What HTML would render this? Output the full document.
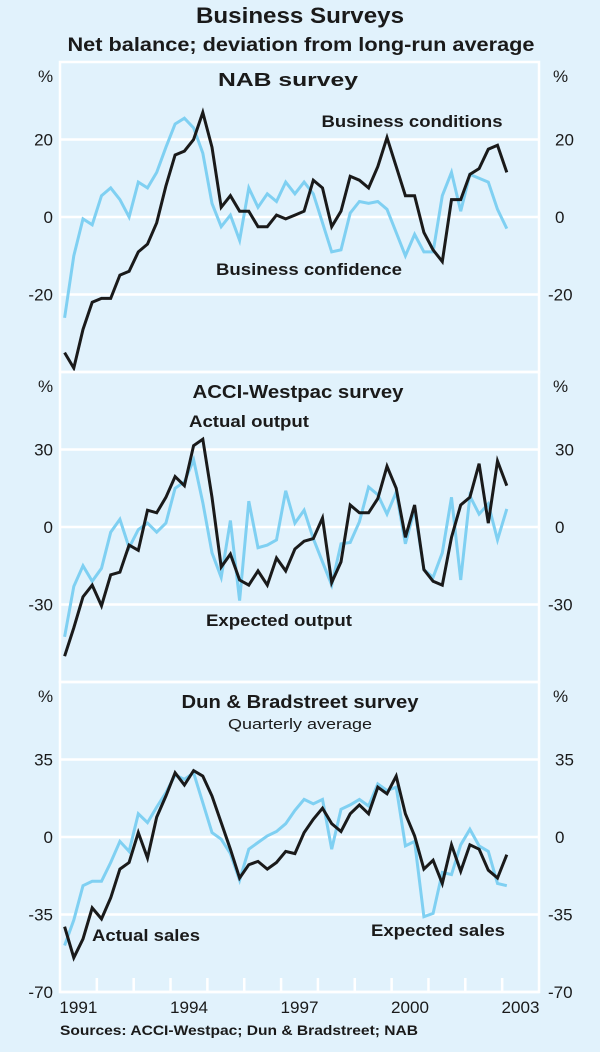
<!DOCTYPE html>
<html><head><meta charset="utf-8"><style>
body{margin:0;background:#e1f2fc;}
svg{display:block;font-family:"Liberation Sans",sans-serif;}
</style></head><body>
<svg id="chart" width="600" height="1052" viewBox="0 0 600 1052" xmlns="http://www.w3.org/2000/svg">
<rect x="0" y="0" width="600" height="1052" fill="#e1f2fc"/>
<text x="300" y="23" text-anchor="middle" font-size="22" font-weight="bold" fill="#1a1a1a" textLength="208" lengthAdjust="spacingAndGlyphs">Business Surveys</text>
<text x="301" y="51" text-anchor="middle" font-size="19" font-weight="bold" fill="#1a1a1a" textLength="467" lengthAdjust="spacingAndGlyphs">Net balance; deviation from long-run average</text>
<g id="panels"></g>
<text x="60" y="1035" font-size="14" font-weight="bold" fill="#1a1a1a" textLength="358" lengthAdjust="spacingAndGlyphs">Sources: ACCI-Westpac; Dun &amp; Bradstreet; NAB</text>
</svg>
<script>
const years = ["1991","1994","1997","2000","2003"];
const yearPositions = [1991,1994,1997,2000,2003];
const nabTicks = [20,0,-20];
const acciTicks = [30,0,-30];
const dbTicks = [35,0,-35,-70];
const nabConditions = [-35,-39,-29,-22,-21,-21,-15,-14,-9,-7,-1.5,8,16,17,20,27,18,2.5,5.5,1.5,1.5,-2.5,-2.5,0.5,-0.5,0.5,1.5,9.5,7.5,-2.5,1.5,10.5,9.5,7.5,13,20.5,13,5.5,5.5,-4,-8.5,-11.5,4.5,4.5,11,12.5,17.5,18.5,11.5];
const nabConfidence = [-26,-10,-0.5,-2,5.5,7.5,4.5,0,9,7.5,11.5,18,24,25.5,23,16.5,3.5,-2.5,0.5,-6,7.5,2.5,6,4,9,6,9,6,-1.5,-9,-8.5,1,4,3.5,4,2,-4,-10,-4.5,-9,-9,5.5,11.5,1.5,11,10,9,2,-3];
const acciActual = [-50,-39,-27,-22.5,-30.5,-18.5,-17.5,-7,-9,6.5,5.5,11.5,19.5,16,31.5,34,11.5,-15.5,-10.5,-20.5,-22.5,-17,-22.5,-12,-17,-8.5,-5.5,-4.5,3.5,-21.5,-13.5,8.5,5.5,5.5,11,23.5,15,-4,8.5,-16.5,-21,-22.5,-4,8.5,11.5,24.5,1.5,25.5,16];
const acciExpected = [-42.5,-23,-15,-21,-16,-2,3,-8,-1,1.5,-2,1.5,15,17.5,26,9.5,-10,-19.5,2.5,-28.5,10,-8,-7,-5,14,1.5,6.5,-4.5,-13.5,-22.5,-6.5,-6,2,15.5,12.5,5,13.5,-6.5,7,-16.5,-19.5,-10,11.5,-20.5,12,5,9,-5,7];
const dbActual = [-40.5,-54.5,-46,-32,-37,-27.5,-14.5,-11.5,2,-9.5,9,18.5,29,23.5,30,27.5,18.5,6.5,-5.5,-18.5,-12.5,-11,-14.5,-11.5,-6.5,-7.5,2,8,13,6,2.5,10.5,14.5,10.5,22.5,19.5,27.5,10.5,0.5,-14.5,-10.5,-21,-3.5,-15.5,-3.5,-5.5,-15,-18.5,-8];
const dbExpected = [-49,-37.5,-22,-20,-20,-11.5,-2,-6.5,10.5,6.5,13.5,20,28,26,29,15.5,2,-1,-7.5,-19.5,-5.5,-2.5,0.5,2.5,6,12,17,15,17,-5.5,12.5,14.5,17,14,24,21,22.5,-4,-2,-36,-34.5,-16,-17,-3.5,3.5,-4,-6.5,-21,-22];

const NS="http://www.w3.org/2000/svg";
const X0=60, X1=539, T0=1991, T1=2004;
function xScale(t){return X0+(t-T0)/(T1-T0)*(X1-X0);}
function qTime(i){return T0+(i+0.5)/4;}
const g=document.getElementById('panels');
function mk(tag,attrs,parent){const e=document.createElementNS(NS,tag);for(const k in attrs)e.setAttribute(k,attrs[k]);(parent||g).appendChild(e);return e;}

function panel(cfg){
  const pg=mk('g',{});
  
  
  const y=v=>cfg.top+(cfg.max-v)/(cfg.max-cfg.min)*(cfg.bottom-cfg.top);
  const fr=mk('rect',{x:X0,y:cfg.top,width:X1-X0,height:cfg.bottom-cfg.top,fill:'none',stroke:'#ffffff','stroke-width':2.5},pg);
  
  
  cfg.ticks.forEach(v=>{
    const ln=mk('line',{x1:X0,x2:X1,y1:y(v),y2:y(v),stroke:'#ffffff','stroke-width':2.5},pg);
    
    
    const tl=mk('text',{x:X0-7,y:y(v)+6,'text-anchor':'end','font-size':17,fill:'#1a1a1a'},pg);
    tl.textContent=v;
    
    
    const tr=mk('text',{x:v<0?548:555,y:y(v)+6,'text-anchor':'start','font-size':17,fill:'#1a1a1a'},pg);
    tr.textContent=v;
    
    
  });
  [[38,'y-unit-left'],[553,'y-unit-right']].forEach(p=>{
    const u=mk('text',{x:p[0],y:cfg.top+20,'font-size':17,fill:'#1a1a1a'},pg);
    u.textContent='%';
    
    
  });
  cfg.labels.forEach(l=>{
    const t=mk('text',{x:l[1],y:l[2],'text-anchor':'middle','font-size':l[3],'font-weight':l[4]||'bold',fill:'#1a1a1a',textLength:l[6],lengthAdjust:'spacingAndGlyphs'},pg);
    t.textContent=l[0];
    
    
  });
  cfg.series.forEach(s=>{
    const d=s.data.map((v,i)=>(i?'L':'M')+xScale(qTime(i)).toFixed(1)+','+y(v).toFixed(1)).join(' ');
    const p=mk('path',{d:d,fill:'none',stroke:s.color,'stroke-width':3,'stroke-linejoin':'miter'},pg);
    
    
  });
  return y;
}
panel({name:'nab-panel',top:62,bottom:372,max:40,min:-40,ticks:nabTicks,
  labels:[['NAB survey',288,86,18,'bold','panel-title-nab',140],['Business conditions',412,127,17,'bold','label-business-conditions',181],['Business confidence',309,275,17,'bold','label-business-confidence',186]],
  series:[{data:nabConfidence,color:'#7fd0f2',name:'line-business-confidence'},{data:nabConditions,color:'#1a1a1a',name:'line-business-conditions'}]});
panel({name:'acci-panel',top:372,bottom:682,max:60,min:-60,ticks:acciTicks,
  labels:[['ACCI-Westpac survey',298,398,18,'bold','panel-title-acci',211],['Actual output',249,427,17,'bold','label-actual-output',120],['Expected output',279,626,17,'bold','label-expected-output',146]],
  series:[{data:acciExpected,color:'#7fd0f2',name:'line-expected-output'},{data:acciActual,color:'#1a1a1a',name:'line-actual-output'}]});
panel({name:'db-panel',top:682,bottom:992,max:70,min:-70,ticks:dbTicks,
  labels:[['Dun & Bradstreet survey',300,708,18,'bold','panel-title-db',237],['Quarterly average',300,729,15,'normal','panel-subtitle-db',144],['Actual sales',146,941,17,'bold','label-actual-sales',108],['Expected sales',438,936,17,'bold','label-expected-sales',134]],
  series:[{data:dbExpected,color:'#7fd0f2',name:'line-expected-sales'},{data:dbActual,color:'#1a1a1a',name:'line-actual-sales'}]});
for(let yr=1992;yr<=2003;yr++){
  const tk=mk('line',{x1:xScale(yr),x2:xScale(yr),y1:978,y2:992,stroke:'#ffffff','stroke-width':2.5});
  
  
}
years.forEach((lab,i)=>{
  const t=mk('text',{x:xScale(yearPositions[i]+0.5),y:1013,'text-anchor':'middle','font-size':17,fill:'#1a1a1a',textLength:38,lengthAdjust:'spacingAndGlyphs'});
  t.textContent=lab;
  
  
});
</script>
</body></html>
